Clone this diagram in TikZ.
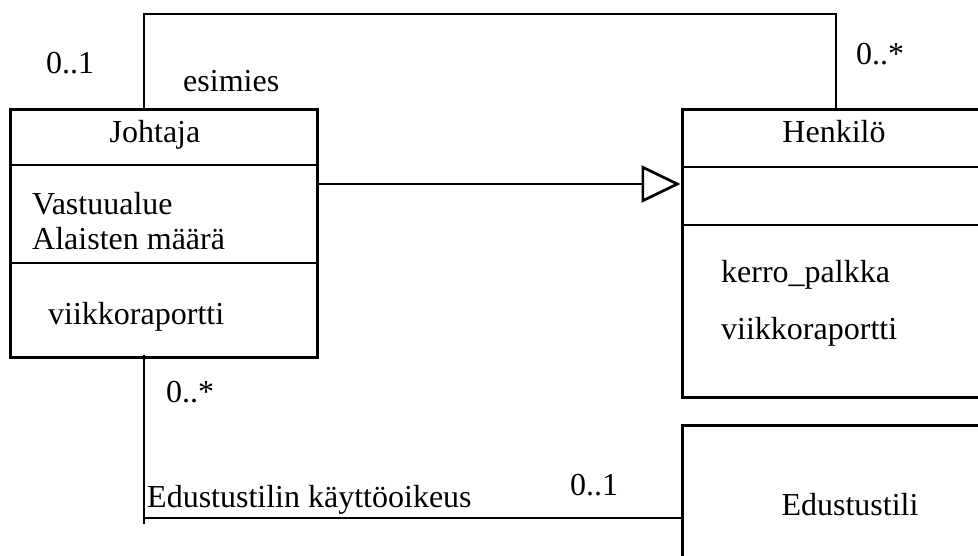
\documentclass[tikz,border=0pt]{standalone}
\usepackage{fontspec}
\setmainfont{Liberation Serif}
\usetikzlibrary{arrows.meta}
\begin{document}
\begin{tikzpicture}[x=1pt,y=-1pt,
  lbl/.style={font=\fontsize{32}{36}\selectfont, inner sep=0pt, anchor=base},
  lbll/.style={lbl, anchor=base west},
  classbox/.style={draw, line width=3pt, rectangle, inner sep=0pt},
  sepline/.style={line width=2.4pt},
  conn/.style={line width=2.7pt},
  thinconn/.style={line width=2pt}]
\useasboundingbox (0,0) rectangle (978,556);
\clip (0,0) rectangle (978,556);
% class boxes
\node[classbox, minimum width=307pt, minimum height=247pt] (joh) at (163.5,233.5) {};
\node[classbox, minimum width=320pt, minimum height=287pt] (hen) at (842,253.5) {};
\node[classbox, minimum width=320pt, minimum height=180pt] (edu) at (842,515) {};
% helper coordinates
\coordinate (s1) at (0,165);
\coordinate (s2) at (0,263);
\coordinate (h1) at (0,167);
\coordinate (h2) at (0,225);
\coordinate (esL) at (144,14);
\coordinate (esR) at (836,14);
\coordinate (gy) at (0,184);
\coordinate (ax) at (144,0);
\coordinate (aend) at (144,524);
\coordinate (acorner) at (144,518);
% separators
\draw[sepline] (joh.west |- s1) -- (joh.east |- s1);
\draw[sepline] (joh.west |- s2) -- (joh.east |- s2);
\draw[sepline] (hen.west |- h1) -- (hen.east |- h1);
\draw[sepline] (hen.west |- h2) -- (hen.east |- h2);
% texts
\node[lbl] (tjoh) at (155,143) {Johtaja};
\node[lbll] (tvas) at (32,215) {Vastuualue};
\node[lbll] (tala) at (32,250) {Alaisten määrä};
\node[lbll] (tvii) at (48,324) {viikkoraportti};
\node[lbl] (then) at (834,143) {Henkilö};
\node[lbll] (tker) at (721,283) {kerro\_palkka};
\node[lbll] (tvii2) at (721,339) {viikkoraportti};
\node[lbl] (tedu) at (850,515) {Edustustili};
\node[lbl] (m1) at (70,74) {0..1};
\node[lbll] (tesi) at (183,92) {esimies};
\node[lbl] (m2) at (880,65) {0..*};
\node[lbll] (m3) at (166,402) {0..*};
\node[lbll] (tkay) at (147,507) {Edustustilin käyttöoikeus};
\node[lbl] (m4) at (594,495) {0..1};
% esimies association
\draw[thinconn] (joh.north -| esL) -- (esL) -- (esR) -- (hen.north -| esR);
% generalization
\draw[conn, -{Triangle[open, length=39pt, width=37pt]}] (joh.east |- gy) -- (hen.west |- gy);
% Edustustili association
\draw[conn] ([yshift=4pt]joh.south -| ax) -- (aend);
\draw[conn] (acorner) -- (edu.west |- acorner);
\end{tikzpicture}
\end{document}
